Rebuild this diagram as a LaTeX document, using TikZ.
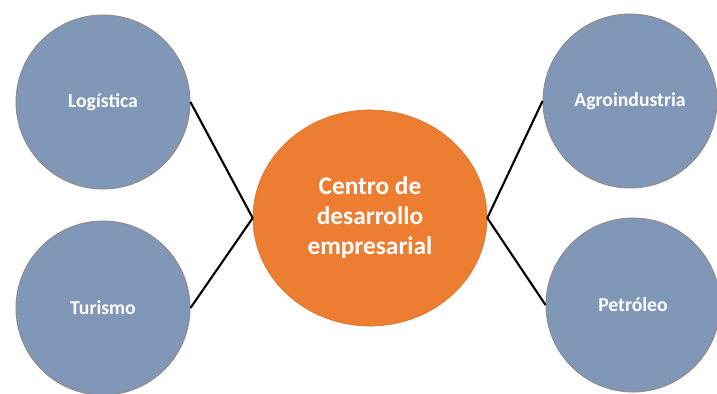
\documentclass[tikz,border=0pt]{standalone}
\usepackage{fontspec}
\setmainfont{Carlito}
\usepackage{tikz}
\usetikzlibrary{shapes.geometric}

\definecolor{sectorblue}{RGB}{128,151,184}
\definecolor{sectoredge}{RGB}{150,135,130}
\definecolor{huborange}{RGB}{237,125,49}

\begin{document}
\begin{tikzpicture}[x=0.025cm,y=-0.025cm,-]
            \tikzstyle{sector}=[circle,draw=sectoredge,line width=0.6pt,fill=sectorblue,minimum size=4.35cm,inner sep=0pt,text=white,font=\bfseries\fontsize{14}{16}\selectfont]
            \tikzstyle{hub}=[ellipse,draw=huborange!90!black,line width=0.4pt,fill=huborange,minimum width=5.85cm,minimum height=5.4cm,inner sep=0pt,text=white,align=center,font=\bfseries\fontsize{18}{21.3}\selectfont]
            \useasboundingbox (0,0) rectangle (717,394);
            \fill[white] (0,0) rectangle (717,394);

                    \node[hub] (S-0) at (370, 218){Centro de\\desarrollo\\empresarial};

                    \node[sector] (S-1) at (103, 102){Logística};
                    \node[sector] (S-2) at (103, 308){Turismo};

                    \node[sector] (S-3) at (630, 101){Agroindustria};
                    \node[sector] (S-4) at (633, 305){Petróleo};

                \foreach \from/\to in {1/0, 2/0}
                    \draw[line width=1.5pt] (S-\from.east) -- (S-\to.west);
                \foreach \from/\to in {3/0, 4/0}
                    \draw[line width=1.5pt] (S-\from.west) -- (S-\to.east);
        \end{tikzpicture}
\end{document}
